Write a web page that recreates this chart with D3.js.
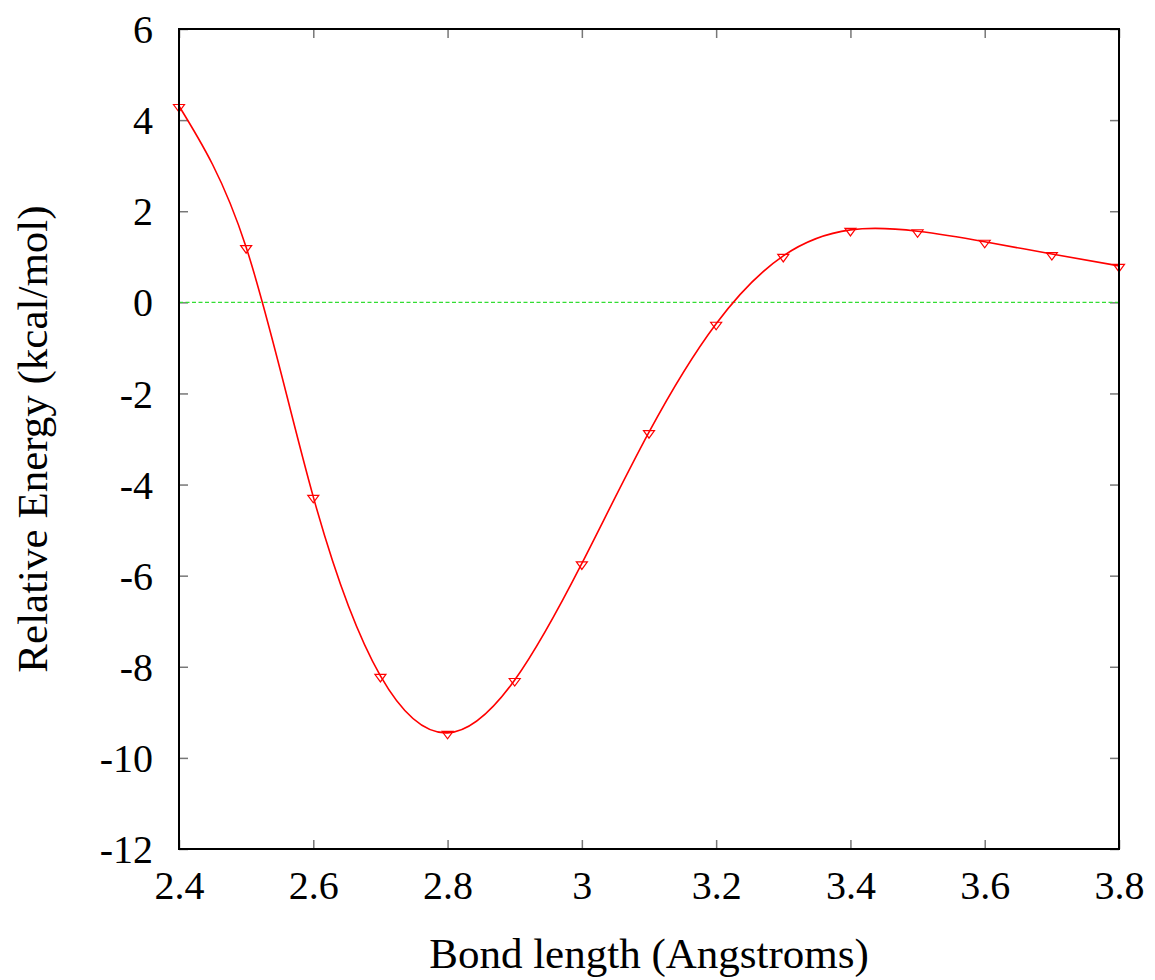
<!DOCTYPE html>
<html>
<head>
<meta charset="utf-8">
<script src="https://cdn.jsdelivr.net/npm/d3@7"></script>
<style>
  html, body { margin: 0; padding: 0; background: #fff; }
  svg { display: block; }
</style>
</head>
<body>
<svg id="chart" width="1155" height="980"></svg>
<script>
const bondLength = [2.4, 2.5, 2.6, 2.7, 2.8, 2.9, 3.0, 3.1, 3.2, 3.3, 3.4, 3.5, 3.6, 3.7, 3.8];
const energy = [4.31, 1.21, -4.27, -8.20, -9.45, -8.29, -5.73, -2.85, -0.47, 1.02, 1.59, 1.56, 1.33, 1.06, 0.80];
const xTicks = [2.4, 2.6, 2.8, 3.0, 3.2, 3.4, 3.6, 3.8];
const yTicks = [6, 4, 2, 0, -2, -4, -6, -8, -10, -12];
const xTitle = "Bond length (Angstroms)";
const yTitle = "Relative Energy (kcal/mol)";

const serifFont = '"Liberation Serif"';
const mLeft = 179, mRight = 1119, mTop = 29, mBottom = 849;
const svg = d3.select("#chart");
const x = d3.scaleLinear().domain([2.4, 3.8]).range([mLeft, mRight]);
const y = d3.scaleLinear().domain([-12, 6]).range([mBottom, mTop]);

// ticks (inside, mirrored)
const tickLen = 9;
const fmt = d => String(+d.toFixed(1));
const gx1 = svg.append("g").attr("transform", `translate(0,${mBottom})`)
  .call(d3.axisBottom(x).tickValues(xTicks).tickSize(-tickLen).tickPadding(22).tickFormat(fmt));
const gx2 = svg.append("g").attr("transform", `translate(0,${mTop})`)
  .call(d3.axisTop(x).tickValues(xTicks).tickSize(-tickLen).tickFormat(""));
const gy1 = svg.append("g").attr("transform", `translate(${mLeft},0)`)
  .call(d3.axisLeft(y).tickValues(yTicks).tickSize(-tickLen).tickPadding(26).tickFormat(d => String(d)));
const gy2 = svg.append("g").attr("transform", `translate(${mRight},0)`)
  .call(d3.axisRight(y).tickValues(yTicks).tickSize(-tickLen).tickFormat(""));
[gx1, gx2, gy1, gy2].forEach(g => {
  g.attr("font-family", null);
  g.select(".domain").remove();
  g.selectAll(".tick line").attr("stroke", "#777").attr("stroke-width", 1.5);
  g.selectAll(".tick text").attr("font-size", 40).attr("fill", "#000")
    .style("font-family", serifFont);
});
gx1.selectAll(".tick text").attr("dy", "0.71em");
gy1.selectAll(".tick text").attr("dy", "0.34em");

// zero line
svg.append("line")
  .attr("x1", x(2.4)).attr("x2", x(3.8)).attr("y1", y(0)).attr("y2", y(0))
  .attr("stroke", "#33dd33").attr("stroke-width", 1.3).attr("stroke-dasharray", "4,2.5");

// curve
const pts = bondLength.map((b, i) => [b, energy[i]]);
const line = d3.line().x(d => x(d[0])).y(d => y(d[1])).curve(d3.curveNatural);
svg.append("path").attr("d", line(pts))
  .attr("fill", "none").attr("stroke", "#ff0000").attr("stroke-width", 1.6);

// markers (down triangles)
svg.append("g").selectAll("path").data(pts).join("path")
  .attr("d", d => {
    const cx = x(d[0]), cy = y(d[1]);
    return `M${cx - 5.5},${cy - 1.5} L${cx + 5.5},${cy - 1.5} L${cx},${cy + 6} Z`;
  })
  .attr("fill", "none").attr("stroke", "#ff0000").attr("stroke-width", 1.2);

// frame
svg.append("rect").attr("x", mLeft).attr("y", mTop)
  .attr("width", mRight - mLeft).attr("height", mBottom - mTop)
  .attr("fill", "none").attr("stroke", "#000").attr("stroke-width", 2);

// titles
svg.append("text").attr("x", 649).attr("y", 968)
  .attr("text-anchor", "middle").attr("font-size", 43).style("font-family", serifFont).text(xTitle);
svg.append("text").attr("transform", `translate(47,${(mTop + mBottom) / 2}) rotate(-90)`)
  .attr("text-anchor", "middle").attr("font-size", 43).style("font-family", serifFont).text(yTitle);
</script>
</body>
</html>
